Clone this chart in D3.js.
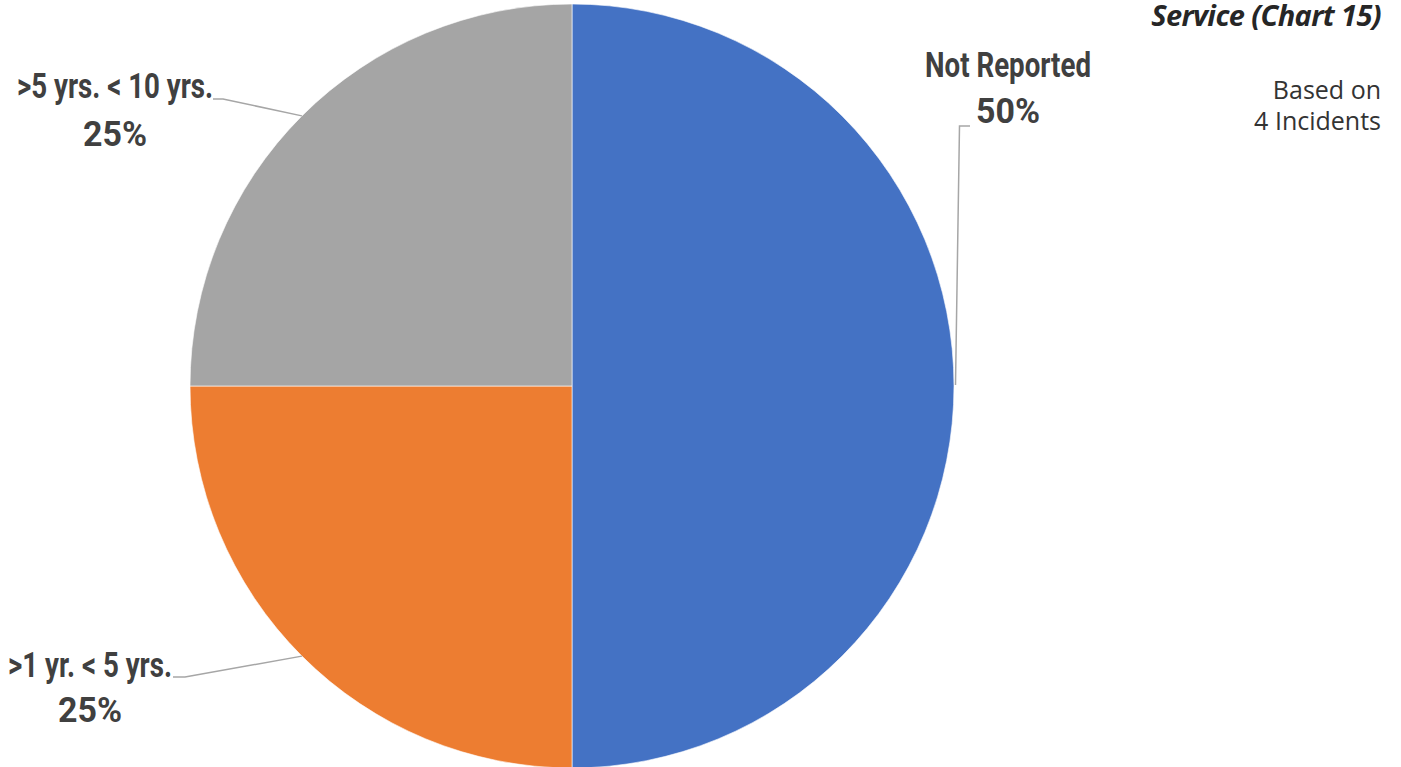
<!DOCTYPE html>
<html>
<head>
<meta charset="utf-8">
<script src="https://cdn.jsdelivr.net/npm/d3@7"></script>
<style>
  html, body { margin: 0; padding: 0; background: #fff; }
  svg { display: block; }
</style>
</head>
<body>
<svg id="chart" width="1401" height="767"></svg>
<script>
const categories = ["Not Reported", ">1 yr. < 5 yrs.", ">5 yrs. < 10 yrs."];
const values = [2, 1, 1];
const percentLabels = ["50%", "25%", "25%"];
const colors = ["#4472C4", "#ED7D31", "#A5A5A5"];
const titleLines = ["Service (Chart 15)"];
const noteLines = ["Based on", "4 Incidents"];

const svg = d3.select("#chart");
const cx = 572, cy = 386, r = 382;
const labelFont = "Roboto, 'Liberation Sans', sans-serif";
const textColor = "#404040";

const pie = d3.pie().sort(null).value(d => d)(values);
const arc = d3.arc().innerRadius(0).outerRadius(r);
const g = svg.append("g").attr("transform", `translate(${cx},${cy})`);

g.selectAll("path.slice").data(pie).join("path")
  .attr("class", "slice")
  .attr("d", arc)
  .attr("fill", (d, i) => colors[i])
  .attr("stroke", "#ffffff")
  .attr("stroke-opacity", 0.6)
  .attr("stroke-width", 1);

const labelPos = [
  { x: 1008, y1: 77, y2: 123, leader: [[955.5, 385], [959.5, 126], [970, 126]] },
  { x: 90, y1: 677, y2: 722, leader: null },
  { x: 115, y1: 98, y2: 146, leader: null }
];
const outerArc = d3.arc().innerRadius(r).outerRadius(r);
pie.forEach((d, i) => {
  if (i === 0) return;
  const c = outerArc.centroid(d);
  const ex = cx + c[0], ey = cy + c[1];
  if (i === 1) labelPos[i].leader = [[ex, ey], [185, 677], [173, 677]];
  if (i === 2) labelPos[i].leader = [[ex, ey], [223, 99], [213, 99]];
});

const line = d3.line();
svg.selectAll("path.leader").data(labelPos).join("path")
  .attr("class", "leader")
  .attr("d", d => line(d.leader))
  .attr("fill", "none")
  .attr("stroke", "#A6A6A6")
  .attr("stroke-width", 1.5);

// condensed look: measure the widest label, derive a horizontal squeeze factor
const probe = svg.append("text")
  .attr("font-family", labelFont).attr("font-weight", "bold").attr("font-size", 35)
  .text(categories[0]);
const probeW = probe.node().getComputedTextLength();
probe.remove();
const squeeze = 166 / probeW;

const labels = svg.selectAll("g.label").data(pie).join("g").attr("class", "label");
function addLine(sel, yKey, sx, textFn) {
  sel.append("text")
    .attr("transform", (d, i) => `translate(${labelPos[i].x},${labelPos[i][yKey]}) scale(${sx},1)`)
    .attr("text-anchor", "middle")
    .attr("font-family", labelFont)
    .attr("font-weight", "bold")
    .attr("font-size", 35)
    .attr("fill", textColor)
    .text(textFn);
}
addLine(labels, "y1", squeeze, (d, i) => categories[i]);
addLine(labels, "y2", 0.97, (d, i) => percentLabels[i]);

svg.selectAll("text.title").data(titleLines).join("text")
  .attr("class", "title")
  .attr("x", 1381)
  .attr("y", (d, i) => 26 + i * 34)
  .attr("text-anchor", "end")
  .attr("font-family", "'Open Sans', 'Noto Sans', sans-serif")
  .attr("font-style", "italic")
  .attr("font-weight", "bold")
  .attr("font-size", 29)
  .attr("letter-spacing", -0.6)
  .attr("fill", "#262626")
  .text(d => d);

svg.selectAll("text.note").data(noteLines).join("text")
  .attr("class", "note")
  .attr("x", 1381)
  .attr("y", (d, i) => 99 + i * 31)
  .attr("text-anchor", "end")
  .attr("font-family", "'Open Sans', 'Noto Sans', sans-serif")
  .attr("font-size", 25)
  .attr("fill", "#333333")
  .text(d => d);
</script>
</body>
</html>
